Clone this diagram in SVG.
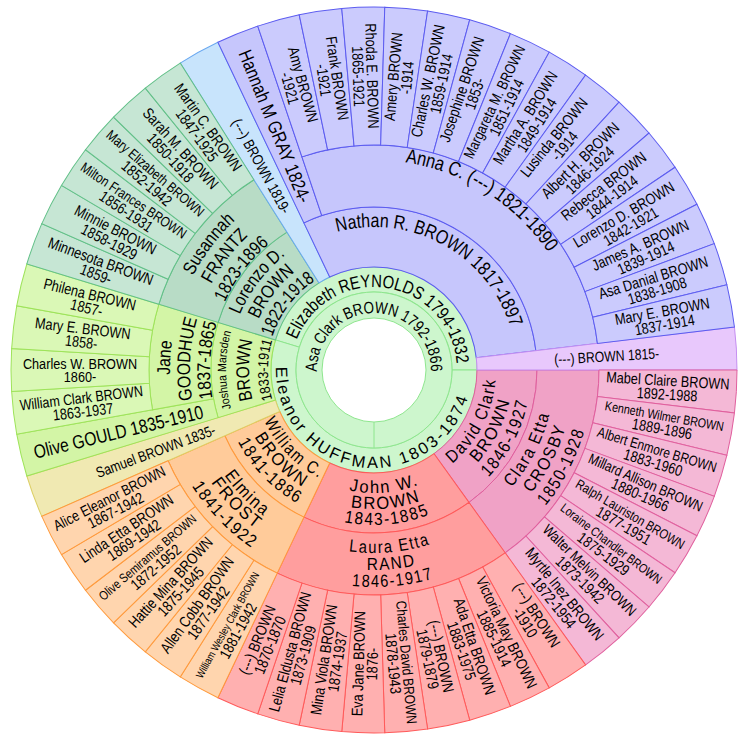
<svg xmlns="http://www.w3.org/2000/svg" width="741" height="744" viewBox="0 0 741 744">
<style>
text{font-family:"Liberation Sans",Arial,Helvetica,sans-serif;fill:#000;stroke:none;text-anchor:middle}
path,use,circle,line{stroke-width:1}
.g0{fill:#cdf6cd;stroke:#8ee68e}
.nc{fill:#c6c6fc;stroke:#5c5cf0}
.nl{fill:#cbcbfd;stroke:#5c5cf0}
.lb{fill:#c8e4fc;stroke:#6aa8f0}
.lc{fill:#b8dcc6;stroke:#62c088}
.ll{fill:#c6e6d4;stroke:#62c088}
.jc{fill:#d3f5a6;stroke:#9ee35a}
.jl{fill:#daf8b6;stroke:#9ee35a}
.sb{fill:#f0e9b2;stroke:#dccf66}
.wc{fill:#ffcb9a;stroke:#ff9a3c}
.wl{fill:#ffd5ae;stroke:#ff9a3c}
.jw{fill:#ff9e9e;stroke:#ff5a5a}
.jwl{fill:#ffb0b0;stroke:#ff5a5a}
.dc{fill:#f0a2c6;stroke:#e0609e}
.dl{fill:#f4b8d6;stroke:#e0609e}
.pb{fill:#e8c8fc;stroke:#c48ef0}
.lt{font-size:15.5px}
.m3{font-size:18.5px}
.b3{font-size:17.5px;letter-spacing:1.8px}
</style>
<defs>
<path id="leaf" d="M225,0L363,0A363,363 0 0 1 360.452,42.933L223.421,26.612A225,225 0 0 0 225,0Z"/>
<path id="band1" d="M103,0L363,0A363,363 0 0 1 360.452,42.933L102.277,12.182A103,103 0 0 0 103,0Z"/>
<path id="band2" d="M163,0L363,0A363,363 0 0 1 360.452,42.933L161.856,19.279A163,163 0 0 0 163,0Z"/>
<path id="c6" d="M103,0L163,0A163,163 0 0 1 123.474,106.410L78.024,67.241A103,103 0 0 0 103,0Z"/>
<path id="s6" d="M163,0L225,0A225,225 0 0 1 170.440,146.885L123.474,106.410A163,163 0 0 0 163,0Z"/>
<path id="t57" d="M-57,0A57,57 0 0 1 57,0A57,57 0 0 1 -57,0"/>
<path id="t83" d="M-83,0A83,83 0 0 1 83,0A83,83 0 0 1 -83,0"/>
<path id="t143" d="M-143,0A143,143 0 0 1 143,0A143,143 0 0 1 -143,0"/>
<path id="t210" d="M-210,0A210,210 0 0 1 210,0A210,210 0 0 1 -210,0"/>
<path id="t145" d="M-145,0A145,145 0 0 1 145,0A145,145 0 0 1 -145,0"/>
<path id="t126" d="M-126,0A126,126 0 0 1 126,0A126,126 0 0 1 -126,0"/>
<path id="t107" d="M-107,0A107,107 0 0 1 107,0A107,107 0 0 1 -107,0"/>
<path id="t204" d="M-204,0A204,204 0 0 1 204,0A204,204 0 0 1 -204,0"/>
<path id="t184" d="M-184,0A184,184 0 0 1 184,0A184,184 0 0 1 -184,0"/>
<path id="t164" d="M-164,0A164,164 0 0 1 164,0A164,164 0 0 1 -164,0"/>
<path id="t148" d="M-148,0A148,148 0 0 1 148,0A148,148 0 0 1 -148,0"/>
<path id="t125" d="M-125,0A125,125 0 0 1 125,0A125,125 0 0 1 -125,0"/>
<path id="t106" d="M-106,0A106,106 0 0 1 106,0A106,106 0 0 1 -106,0"/>
<path id="b98" d="M-98,0A98,98 0 0 0 98,0A98,98 0 0 0 -98,0"/>
<path id="b121" d="M-121,0A121,121 0 0 0 121,0A121,121 0 0 0 -121,0"/>
<path id="b122" d="M-122,0A122,122 0 0 0 122,0A122,122 0 0 0 -122,0"/>
<path id="b123" d="M-123,0A123,123 0 0 0 123,0A123,123 0 0 0 -123,0"/>
<path id="b137" d="M-137,0A137,137 0 0 0 137,0A137,137 0 0 0 -137,0"/>
<path id="b139" d="M-139,0A139,139 0 0 0 139,0A139,139 0 0 0 -139,0"/>
<path id="b154" d="M-154,0A154,154 0 0 0 154,0A154,154 0 0 0 -154,0"/>
<path id="b155" d="M-155,0A155,155 0 0 0 155,0A155,155 0 0 0 -155,0"/>
<path id="b157" d="M-157,0A157,157 0 0 0 157,0A157,157 0 0 0 -157,0"/>
<path id="b181" d="M-181,0A181,181 0 0 0 181,0A181,181 0 0 0 -181,0"/>
<path id="b183" d="M-183,0A183,183 0 0 0 183,0A183,183 0 0 0 -183,0"/>
<path id="b198" d="M-198,0A198,198 0 0 0 198,0A198,198 0 0 0 -198,0"/>
<path id="b200" d="M-200,0A200,200 0 0 0 200,0A200,200 0 0 0 -200,0"/>
<path id="b216" d="M-216,0A216,216 0 0 0 216,0A216,216 0 0 0 -216,0"/>
<path id="b217" d="M-217,0A217,217 0 0 0 217,0A217,217 0 0 0 -217,0"/>
<path id="b219" d="M-219,0A219,219 0 0 0 219,0A219,219 0 0 0 -219,0"/>
</defs>
<g transform="translate(374 370)">

<g id="elizabeth-reynolds" class="g0">
<path transform="rotate(196.981)" d="M78,0L103,0A103,103 0 0 1 -98.509,30.082L-74.599,22.780A78,78 0 0 0 78,0Z"/>
<text transform="rotate(278.491)" font-size="18"><textPath href="#t83" startOffset="50%" textLength="223" lengthAdjust="spacingAndGlyphs">Elizabeth REYNOLDS 1794-1832</textPath></text>
</g>
<g id="eleanor-huffman" class="g0">
<path d="M78,0L103,0A103,103 0 1 1 -98.509,-30.082L-74.599,-22.780A78,78 0 1 0 78,0Z"/>
<text transform="rotate(98.491)" font-size="16.4" letter-spacing="2.4"><textPath href="#b98" startOffset="50%">Eleanor HUFFMAN 1803-1874</textPath></text>
</g>
<g id="asa-clark-brown" class="g0">
<circle r="78"/>
<circle r="52" fill="#ffffff"/>
<line x1="0" y1="52" x2="0" y2="78"/>
<text transform="rotate(270)" font-size="16.5"><textPath href="#t57" startOffset="50%" textLength="182" lengthAdjust="spacingAndGlyphs">Asa Clark BROWN 1792-1866</textPath></text>
</g>

<g id="david-clark-brown" class="dc">
<path d="M103,0L163,0A163,163 0 0 1 95.026,132.435L60.047,83.686A103,103 0 0 0 103,0Z"/>
<text class="b3" transform="rotate(27.170)"><textPath href="#b122" startOffset="50%" textLength="98" lengthAdjust="spacingAndGlyphs">David Clark</textPath></text>
<text class="b3" transform="rotate(27.170)"><textPath href="#b139" startOffset="50%" textLength="72" lengthAdjust="spacingAndGlyphs">BROWN</textPath></text>
<text class="b3" transform="rotate(27.170)"><textPath href="#b157" startOffset="50%" textLength="88" lengthAdjust="spacingAndGlyphs">1846-1927</textPath></text>
</g>
<g id="clara-etta-crosby" class="dc">
<path d="M163,0L225,0A225,225 0 0 1 131.170,182.809L95.026,132.435A163,163 0 0 0 163,0Z"/>
<text class="b3" transform="rotate(27.170)"><textPath href="#b181" startOffset="50%" textLength="84" lengthAdjust="spacingAndGlyphs">Clara Etta</textPath></text>
<text class="b3" transform="rotate(27.170)"><textPath href="#b200" startOffset="50%" textLength="76" lengthAdjust="spacingAndGlyphs">CROSBY</textPath></text>
<text class="b3" transform="rotate(27.170)"><textPath href="#b219" startOffset="50%" textLength="86" lengthAdjust="spacingAndGlyphs">1850-1928</textPath></text>
</g>
<g id="john-w-brown" class="jw">
<path transform="rotate(54.340)" d="M103,0L163,0A163,163 0 0 1 78.695,142.745L49.728,90.201A103,103 0 0 0 103,0Z"/>
<text class="b3" transform="rotate(84.906)"><textPath href="#b123" startOffset="50%" textLength="72" lengthAdjust="spacingAndGlyphs">John W.</textPath></text>
<text class="b3" transform="rotate(84.906)"><textPath href="#b139" startOffset="50%" textLength="72" lengthAdjust="spacingAndGlyphs">BROWN</textPath></text>
<text class="b3" transform="rotate(84.906)"><textPath href="#b155" startOffset="50%" textLength="88" lengthAdjust="spacingAndGlyphs">1843-1885</textPath></text>
</g>
<g id="laura-etta-rand" class="jw">
<path transform="rotate(54.340)" d="M163,0L225,0A225,225 0 0 1 108.628,197.041L78.695,142.745A163,163 0 0 0 163,0Z"/>
<text class="b3" transform="rotate(84.906)"><textPath href="#b183" startOffset="50%" textLength="83" lengthAdjust="spacingAndGlyphs">Laura Etta</textPath></text>
<text class="b3" transform="rotate(84.906)"><textPath href="#b200" startOffset="50%" textLength="50" lengthAdjust="spacingAndGlyphs">RAND</textPath></text>
<text class="b3" transform="rotate(84.906)"><textPath href="#b217" startOffset="50%" textLength="83" lengthAdjust="spacingAndGlyphs">1846-1917</textPath></text>
</g>
<g id="william-c-brown" class="wc">
<use href="#c6" transform="rotate(115.472)"/>
<text class="b3" transform="rotate(135.849)"><textPath href="#b121" startOffset="50%" textLength="82" lengthAdjust="spacingAndGlyphs">William C.</textPath></text>
<text class="b3" transform="rotate(135.849)"><textPath href="#b137" startOffset="50%" textLength="72" lengthAdjust="spacingAndGlyphs">BROWN</textPath></text>
<text class="b3" transform="rotate(135.849)"><textPath href="#b154" startOffset="50%" textLength="88" lengthAdjust="spacingAndGlyphs">1841-1886</textPath></text>
</g>
<g id="elmina-frost" class="wc">
<use href="#s6" transform="rotate(115.472)"/>
<text class="b3" transform="rotate(135.849)" letter-spacing="3"><textPath href="#b183" startOffset="50%" textLength="58" lengthAdjust="spacingAndGlyphs">Elmina</textPath></text>
<text class="b3" transform="rotate(135.849)" letter-spacing="3"><textPath href="#b198" startOffset="50%" textLength="66" lengthAdjust="spacingAndGlyphs">FROST</textPath></text>
<text class="b3" transform="rotate(135.849)" letter-spacing="2.5"><textPath href="#b216" startOffset="50%" textLength="88" lengthAdjust="spacingAndGlyphs">1841-1922</textPath></text>
</g>
<g id="samuel-brown" class="sb">
<use href="#band1" transform="rotate(156.226)"/>
<text transform="rotate(159.623) translate(233 0) rotate(180) scale(0.82 1)" font-size="14.9" y="5.3">Samuel BROWN 1835-</text>
</g>
<g id="joshua-marsden-brown" class="jc">
<path transform="rotate(163.019)" d="M103,0L163,0A163,163 0 0 1 135.193,91.060L85.429,57.541A103,103 0 0 0 103,0Z"/>
<text transform="rotate(180)" font-size="12"><textPath href="#t148" startOffset="50%" textLength="78" lengthAdjust="spacingAndGlyphs">Joshua Marsden</textPath></text>
<text transform="rotate(180)" font-size="18.5"><textPath href="#t125" startOffset="50%" textLength="60" lengthAdjust="spacingAndGlyphs">BROWN</textPath></text>
<text transform="rotate(180)" font-size="14.5"><textPath href="#t106" startOffset="50%" textLength="60" lengthAdjust="spacingAndGlyphs">1833-1911</textPath></text>
</g>
<g id="olive-gould" class="jc">
<use href="#band2" transform="rotate(163.019)"/>
<text transform="rotate(166.415) translate(263 0) rotate(180) scale(0.82 1)" font-size="19" y="6.8">Olive GOULD 1835-1910</text>
</g>
<g id="jane-goodhue" class="jc">
<path transform="rotate(169.811)" d="M163,0L225,0A225,225 0 0 1 200.173,102.742L145.014,74.431A163,163 0 0 0 163,0Z"/>
<text class="m3" transform="rotate(183.396)"><textPath href="#t204" startOffset="50%" textLength="34" lengthAdjust="spacingAndGlyphs">Jane</textPath></text>
<text class="m3" transform="rotate(183.396)"><textPath href="#t184" startOffset="50%" textLength="82" lengthAdjust="spacingAndGlyphs">GOODHUE</textPath></text>
<text class="m3" transform="rotate(183.396)"><textPath href="#t164" startOffset="50%" textLength="76" lengthAdjust="spacingAndGlyphs">1837-1865</textPath></text>
</g>

<g id="lorenzo-d-brown" class="lc">
<use href="#c6" transform="rotate(196.981)"/>
<text class="m3" transform="rotate(217.358)"><textPath href="#t145" startOffset="50%" textLength="76" lengthAdjust="spacingAndGlyphs">Lorenzo D.</textPath></text>
<text class="m3" transform="rotate(217.358)"><textPath href="#t126" startOffset="50%" textLength="60" lengthAdjust="spacingAndGlyphs">BROWN</textPath></text>
<text class="m3" transform="rotate(217.358)"><textPath href="#t107" startOffset="50%" textLength="72" lengthAdjust="spacingAndGlyphs">1822-1918</textPath></text>
</g>
<g id="susannah-frantz" class="lc">
<use href="#s6" transform="rotate(196.981)"/>
<text class="m3" transform="rotate(217.358)"><textPath href="#t204" startOffset="50%" textLength="70" lengthAdjust="spacingAndGlyphs">Susannah</textPath></text>
<text class="m3" transform="rotate(217.358)"><textPath href="#t184" startOffset="50%" textLength="61" lengthAdjust="spacingAndGlyphs">FRANTZ</textPath></text>
<text class="m3" transform="rotate(217.358)"><textPath href="#t164" startOffset="50%" textLength="74" lengthAdjust="spacingAndGlyphs">1823-1896</textPath></text>
</g>
<g id="brown-1819" class="lb">
<use href="#band1" transform="rotate(237.736)"/>
<text transform="rotate(241.132) translate(233 0) rotate(180) scale(0.82 1)" font-size="15" y="5.4">(---) BROWN 1819-</text>
</g>
<g id="nathan-r-brown" class="nc">
<path transform="rotate(244.528)" d="M103,0L163,0A163,163 0 0 1 -52.204,154.414L-32.988,97.575A103,103 0 0 0 103,0Z"/>
<text transform="rotate(298.868)" font-size="19.5"><textPath href="#t143" startOffset="50%" textLength="218.6" lengthAdjust="spacingAndGlyphs">Nathan R. BROWN 1817-1897</textPath></text>
</g>
<g id="hannah-m-gray" class="nc">
<use href="#band2" transform="rotate(244.528)"/>
<text transform="rotate(247.925) translate(263 0) rotate(180) scale(0.82 1)" font-size="19" y="6.8">Hannah M GRAY 1824-</text>
</g>
<g id="anna-c" class="nc">
<path transform="rotate(251.321)" d="M163,0L225,0A225,225 0 0 1 -46.345,220.175L-33.574,159.505A163,163 0 0 0 163,0Z"/>
<text transform="rotate(302.264)" font-size="20"><textPath href="#t210" startOffset="50%" textLength="174" lengthAdjust="spacingAndGlyphs">Anna C. (---) 1821-1890</textPath></text>
</g>
<g id="brown-1815" class="pb">
<use href="#band1" transform="rotate(353.208)"/>
<text transform="rotate(356.604) translate(233 0) scale(0.82 1)" font-size="14.9" y="5.3">(---) BROWN 1815-</text>
</g>

<g id="mabel-claire-brown" class="dl"><use href="#leaf" transform="rotate(0)"/><text class="lt" transform="rotate(3.396) translate(294 0) scale(0.82 1)"><tspan x="0" y="-1.5">Mabel Claire BROWN</tspan><tspan x="0" y="12.3">1892-1988</tspan></text></g>
<g id="kenneth-wilmer-brown" class="dl"><use href="#leaf" transform="rotate(6.792)"/><text class="lt" transform="rotate(10.189) translate(294 0) scale(0.82 1)"><tspan x="0" y="-1.5" font-size="13.1">Kenneth Wilmer BROWN</tspan><tspan x="0" y="12.3">1889-1896</tspan></text></g>
<g id="albert-enmore-brown" class="dl"><use href="#leaf" transform="rotate(13.585)"/><text class="lt" transform="rotate(16.981) translate(294 0) scale(0.82 1)"><tspan x="0" y="-1.5" font-size="14.4">Albert Enmore BROWN</tspan><tspan x="0" y="12.3">1883-1960</tspan></text></g>
<g id="millard-allison-brown" class="dl"><use href="#leaf" transform="rotate(20.377)"/><text class="lt" transform="rotate(23.774) translate(294 0) scale(0.82 1)"><tspan x="0" y="-1.5" font-size="14.7">Millard Allison BROWN</tspan><tspan x="0" y="12.3">1880-1966</tspan></text></g>
<g id="ralph-lauriston-brown" class="dl"><use href="#leaf" transform="rotate(27.170)"/><text class="lt" transform="rotate(30.566) translate(294 0) scale(0.82 1)"><tspan x="0" y="-1.5" font-size="13.6">Ralph Lauriston BROWN</tspan><tspan x="0" y="12.3">1877-1951</tspan></text></g>
<g id="loraine-chandler-brown" class="dl"><use href="#leaf" transform="rotate(33.962)"/><text class="lt" transform="rotate(37.358) translate(294 0) scale(0.82 1)"><tspan x="0" y="-1.5" font-size="12.8">Loraine Chandler BROWN</tspan><tspan x="0" y="12.3">1875-1929</tspan></text></g>
<g id="walter-melvin-brown" class="dl"><use href="#leaf" transform="rotate(40.755)"/><text class="lt" transform="rotate(44.151) translate(294 0) scale(0.82 1)"><tspan x="0" y="-1.5" font-size="14.9">Walter Melvin BROWN</tspan><tspan x="0" y="12.3">1873-1942</tspan></text></g>
<g id="myrtle-inez-brown" class="dl"><use href="#leaf" transform="rotate(47.547)"/><text class="lt" transform="rotate(50.943) translate(294 0) scale(0.82 1)"><tspan x="0" y="-1.5">Myrtle Inez BROWN</tspan><tspan x="0" y="12.3">1872-1954</tspan></text></g>

<g id="brown-d1910" class="jwl"><use href="#leaf" transform="rotate(54.340)"/><text class="lt" transform="rotate(57.736) translate(294 0) scale(0.82 1)"><tspan x="0" y="-1.5">(---) BROWN</tspan><tspan x="0" y="12.3">-1910</tspan></text></g>
<g id="victoria-may-brown" class="jwl"><use href="#leaf" transform="rotate(61.132)"/><text class="lt" transform="rotate(64.528) translate(294 0) scale(0.82 1)"><tspan x="0" y="-1.5">Victoria May BROWN</tspan><tspan x="0" y="12.3">1885-1914</tspan></text></g>
<g id="ada-etta-brown" class="jwl"><use href="#leaf" transform="rotate(67.925)"/><text class="lt" transform="rotate(71.321) translate(294 0) scale(0.82 1)"><tspan x="0" y="-1.5">Ada Etta BROWN</tspan><tspan x="0" y="12.3">1883-1975</tspan></text></g>
<g id="brown-1879" class="jwl"><use href="#leaf" transform="rotate(74.717)"/><text class="lt" transform="rotate(78.113) translate(294 0) scale(0.82 1)"><tspan x="0" y="-1.5">(---) BROWN</tspan><tspan x="0" y="12.3">1879-1879</tspan></text></g>
<g id="charles-david-brown" class="jwl"><use href="#leaf" transform="rotate(81.509)"/><text class="lt" transform="rotate(84.906) translate(294 0) scale(0.82 1)"><tspan x="0" y="-1.5" font-size="14.5">Charles David BROWN</tspan><tspan x="0" y="12.3">1878-1943</tspan></text></g>
<g id="eva-jane-brown" class="jwl"><use href="#leaf" transform="rotate(88.302)"/><text class="lt" transform="rotate(91.698) translate(294 0) rotate(180) scale(0.82 1)"><tspan x="0" y="-1.5">Eva Jane BROWN</tspan><tspan x="0" y="12.3">1876-</tspan></text></g>
<g id="mina-viola-brown" class="jwl"><use href="#leaf" transform="rotate(95.094)"/><text class="lt" transform="rotate(98.491) translate(294 0) rotate(180) scale(0.82 1)"><tspan x="0" y="-1.5">Mina Viola BROWN</tspan><tspan x="0" y="12.3">1874-1937</tspan></text></g>
<g id="lelia-eldusta-brown" class="jwl"><use href="#leaf" transform="rotate(101.887)"/><text class="lt" transform="rotate(105.283) translate(294 0) rotate(180) scale(0.82 1)"><tspan x="0" y="-1.5" font-size="15.3">Lelia Eldusta BROWN</tspan><tspan x="0" y="12.3">1873-1909</tspan></text></g>
<g id="brown-1870" class="jwl"><use href="#leaf" transform="rotate(108.679)"/><text class="lt" transform="rotate(112.075) translate(294 0) rotate(180) scale(0.82 1)"><tspan x="0" y="-1.5">(---) BROWN</tspan><tspan x="0" y="12.3">1870-1870</tspan></text></g>

<g id="william-wesley-clark-brown" class="wl"><use href="#leaf" transform="rotate(115.472)"/><text class="lt" transform="rotate(118.868) translate(294 0) rotate(180) scale(0.82 1)"><tspan x="0" y="-1.5" font-size="10.8">William Wesley Clark BROWN</tspan><tspan x="0" y="12.3">1881-1942</tspan></text></g>
<g id="allen-cobb-brown" class="wl"><use href="#leaf" transform="rotate(122.264)"/><text class="lt" transform="rotate(125.660) translate(294 0) rotate(180) scale(0.82 1)"><tspan x="0" y="-1.5">Allen Cobb BROWN</tspan><tspan x="0" y="12.3">1877-1942</tspan></text></g>
<g id="hattie-mina-brown" class="wl"><use href="#leaf" transform="rotate(129.057)"/><text class="lt" transform="rotate(132.453) translate(294 0) rotate(180) scale(0.82 1)"><tspan x="0" y="-1.5">Hattie Mina BROWN</tspan><tspan x="0" y="12.3">1875-1945</tspan></text></g>
<g id="olive-semiramus-brown" class="wl"><use href="#leaf" transform="rotate(135.849)"/><text class="lt" transform="rotate(139.245) translate(294 0) rotate(180) scale(0.82 1)"><tspan x="0" y="-1.5" font-size="12.9">Olive Semiramus BROWN</tspan><tspan x="0" y="12.3">1872-1952</tspan></text></g>
<g id="linda-etta-brown" class="wl"><use href="#leaf" transform="rotate(142.642)"/><text class="lt" transform="rotate(146.038) translate(294 0) rotate(180) scale(0.82 1)"><tspan x="0" y="-1.5">Linda Etta BROWN</tspan><tspan x="0" y="12.3">1869-1942</tspan></text></g>
<g id="alice-eleanor-brown" class="wl"><use href="#leaf" transform="rotate(149.434)"/><text class="lt" transform="rotate(152.830) translate(294 0) rotate(180) scale(0.82 1)"><tspan x="0" y="-1.5" font-size="15.1">Alice Eleanor BROWN</tspan><tspan x="0" y="12.3">1867-1942</tspan></text></g>

<g id="william-clark-brown" class="jl"><use href="#leaf" transform="rotate(169.811)"/><text class="lt" transform="rotate(173.208) translate(294 0) rotate(180) scale(0.82 1)"><tspan x="0" y="-1.5" font-size="15.2">William Clark BROWN</tspan><tspan x="0" y="12.3">1863-1937</tspan></text></g>
<g id="charles-w-brown-1860" class="jl"><use href="#leaf" transform="rotate(176.604)"/><text class="lt" transform="rotate(180) translate(294 0) rotate(180) scale(0.82 1)"><tspan x="0" y="-1.5">Charles W. BROWN</tspan><tspan x="0" y="12.3">1860-</tspan></text></g>
<g id="mary-e-brown-1858" class="jl"><use href="#leaf" transform="rotate(183.396)"/><text class="lt" transform="rotate(186.792) translate(294 0) rotate(180) scale(0.82 1)"><tspan x="0" y="-1.5">Mary E. BROWN</tspan><tspan x="0" y="12.3">1858-</tspan></text></g>
<g id="philena-brown" class="jl"><use href="#leaf" transform="rotate(190.189)"/><text class="lt" transform="rotate(193.585) translate(294 0) rotate(180) scale(0.82 1)"><tspan x="0" y="-1.5">Philena BROWN</tspan><tspan x="0" y="12.3">1857-</tspan></text></g>

<g id="minnesota-brown" class="ll"><use href="#leaf" transform="rotate(196.981)"/><text class="lt" transform="rotate(200.377) translate(294 0) rotate(180) scale(0.82 1)"><tspan x="0" y="-1.5">Minnesota BROWN</tspan><tspan x="0" y="12.3">1859-</tspan></text></g>
<g id="minnie-brown" class="ll"><use href="#leaf" transform="rotate(203.774)"/><text class="lt" transform="rotate(207.170) translate(294 0) rotate(180) scale(0.82 1)"><tspan x="0" y="-1.5">Minnie BROWN</tspan><tspan x="0" y="12.3">1858-1929</tspan></text></g>
<g id="milton-frances-brown" class="ll"><use href="#leaf" transform="rotate(210.566)"/><text class="lt" transform="rotate(213.962) translate(294 0) rotate(180) scale(0.82 1)"><tspan x="0" y="-1.5" font-size="14.2">Milton Frances BROWN</tspan><tspan x="0" y="12.3">1856-1931</tspan></text></g>
<g id="mary-elizabeth-brown" class="ll"><use href="#leaf" transform="rotate(217.358)"/><text class="lt" transform="rotate(220.755) translate(294 0) rotate(180) scale(0.82 1)"><tspan x="0" y="-1.5" font-size="14.1">Mary Elizabeth BROWN</tspan><tspan x="0" y="12.3">1852-1942</tspan></text></g>
<g id="sarah-m-brown" class="ll"><use href="#leaf" transform="rotate(224.151)"/><text class="lt" transform="rotate(227.547) translate(294 0) rotate(180) scale(0.82 1)"><tspan x="0" y="-1.5">Sarah M. BROWN</tspan><tspan x="0" y="12.3">1850-1918</tspan></text></g>
<g id="martin-c-brown" class="ll"><use href="#leaf" transform="rotate(230.943)"/><text class="lt" transform="rotate(234.340) translate(294 0) rotate(180) scale(0.82 1)"><tspan x="0" y="-1.5">Martin C. BROWN</tspan><tspan x="0" y="12.3">1847-1925</tspan></text></g>

<g id="amy-brown" class="nl"><use href="#leaf" transform="rotate(251.321)"/><text class="lt" transform="rotate(254.717) translate(294 0) rotate(180) scale(0.82 1)"><tspan x="0" y="-1.5">Amy BROWN</tspan><tspan x="0" y="12.3">-1921</tspan></text></g>
<g id="frank-brown" class="nl"><use href="#leaf" transform="rotate(258.113)"/><text class="lt" transform="rotate(261.509) translate(294 0) rotate(180) scale(0.82 1)"><tspan x="0" y="-1.5">Frank BROWN</tspan><tspan x="0" y="12.3">-1921</tspan></text></g>
<g id="rhoda-e-brown" class="nl"><use href="#leaf" transform="rotate(264.906)"/><text class="lt" transform="rotate(268.302) translate(294 0) rotate(180) scale(0.82 1)"><tspan x="0" y="-1.5">Rhoda E. BROWN</tspan><tspan x="0" y="12.3">1865-1921</tspan></text></g>
<g id="amery-brown" class="nl"><use href="#leaf" transform="rotate(271.698)"/><text class="lt" transform="rotate(275.094) translate(294 0) scale(0.82 1)"><tspan x="0" y="-1.5">Amery BROWN</tspan><tspan x="0" y="12.3">-1914</tspan></text></g>
<g id="charles-w-brown-1859" class="nl"><use href="#leaf" transform="rotate(278.491)"/><text class="lt" transform="rotate(281.887) translate(294 0) scale(0.82 1)"><tspan x="0" y="-1.5">Charles W. BROWN</tspan><tspan x="0" y="12.3">1859-1914</tspan></text></g>
<g id="josephine-brown" class="nl"><use href="#leaf" transform="rotate(285.283)"/><text class="lt" transform="rotate(288.679) translate(294 0) scale(0.82 1)"><tspan x="0" y="-1.5">Josephine BROWN</tspan><tspan x="0" y="12.3">1853-</tspan></text></g>
<g id="margareta-m-brown" class="nl"><use href="#leaf" transform="rotate(292.075)"/><text class="lt" transform="rotate(295.472) translate(294 0) scale(0.82 1)"><tspan x="0" y="-1.5" font-size="15">Margareta M. BROWN</tspan><tspan x="0" y="12.3">1851-1914</tspan></text></g>
<g id="martha-a-brown" class="nl"><use href="#leaf" transform="rotate(298.868)"/><text class="lt" transform="rotate(302.264) translate(294 0) scale(0.82 1)"><tspan x="0" y="-1.5">Martha A. BROWN</tspan><tspan x="0" y="12.3">1849-1914</tspan></text></g>
<g id="lusinda-brown" class="nl"><use href="#leaf" transform="rotate(305.660)"/><text class="lt" transform="rotate(309.057) translate(294 0) scale(0.82 1)"><tspan x="0" y="-1.5">Lusinda BROWN</tspan><tspan x="0" y="12.3">-1914</tspan></text></g>
<g id="albert-h-brown" class="nl"><use href="#leaf" transform="rotate(312.453)"/><text class="lt" transform="rotate(315.849) translate(294 0) scale(0.82 1)"><tspan x="0" y="-1.5">Albert H. BROWN</tspan><tspan x="0" y="12.3">1846-1924</tspan></text></g>
<g id="rebecca-brown" class="nl"><use href="#leaf" transform="rotate(319.245)"/><text class="lt" transform="rotate(322.642) translate(294 0) scale(0.82 1)"><tspan x="0" y="-1.5">Rebecca BROWN</tspan><tspan x="0" y="12.3">1844-1914</tspan></text></g>
<g id="lorenzo-d-brown-1842" class="nl"><use href="#leaf" transform="rotate(326.038)"/><text class="lt" transform="rotate(329.434) translate(294 0) scale(0.82 1)"><tspan x="0" y="-1.5">Lorenzo D. BROWN</tspan><tspan x="0" y="12.3">1842-1921</tspan></text></g>
<g id="james-a-brown" class="nl"><use href="#leaf" transform="rotate(332.830)"/><text class="lt" transform="rotate(336.226) translate(294 0) scale(0.82 1)"><tspan x="0" y="-1.5">James A. BROWN</tspan><tspan x="0" y="12.3">1839-1914</tspan></text></g>
<g id="asa-danial-brown" class="nl"><use href="#leaf" transform="rotate(339.623)"/><text class="lt" transform="rotate(343.019) translate(294 0) scale(0.82 1)"><tspan x="0" y="-1.5">Asa Danial BROWN</tspan><tspan x="0" y="12.3">1838-1908</tspan></text></g>
<g id="mary-e-brown-1837" class="nl"><use href="#leaf" transform="rotate(346.415)"/><text class="lt" transform="rotate(349.811) translate(294 0) scale(0.82 1)"><tspan x="0" y="-1.5">Mary E. BROWN</tspan><tspan x="0" y="12.3">1837-1914</tspan></text></g>
</g>
</svg>
